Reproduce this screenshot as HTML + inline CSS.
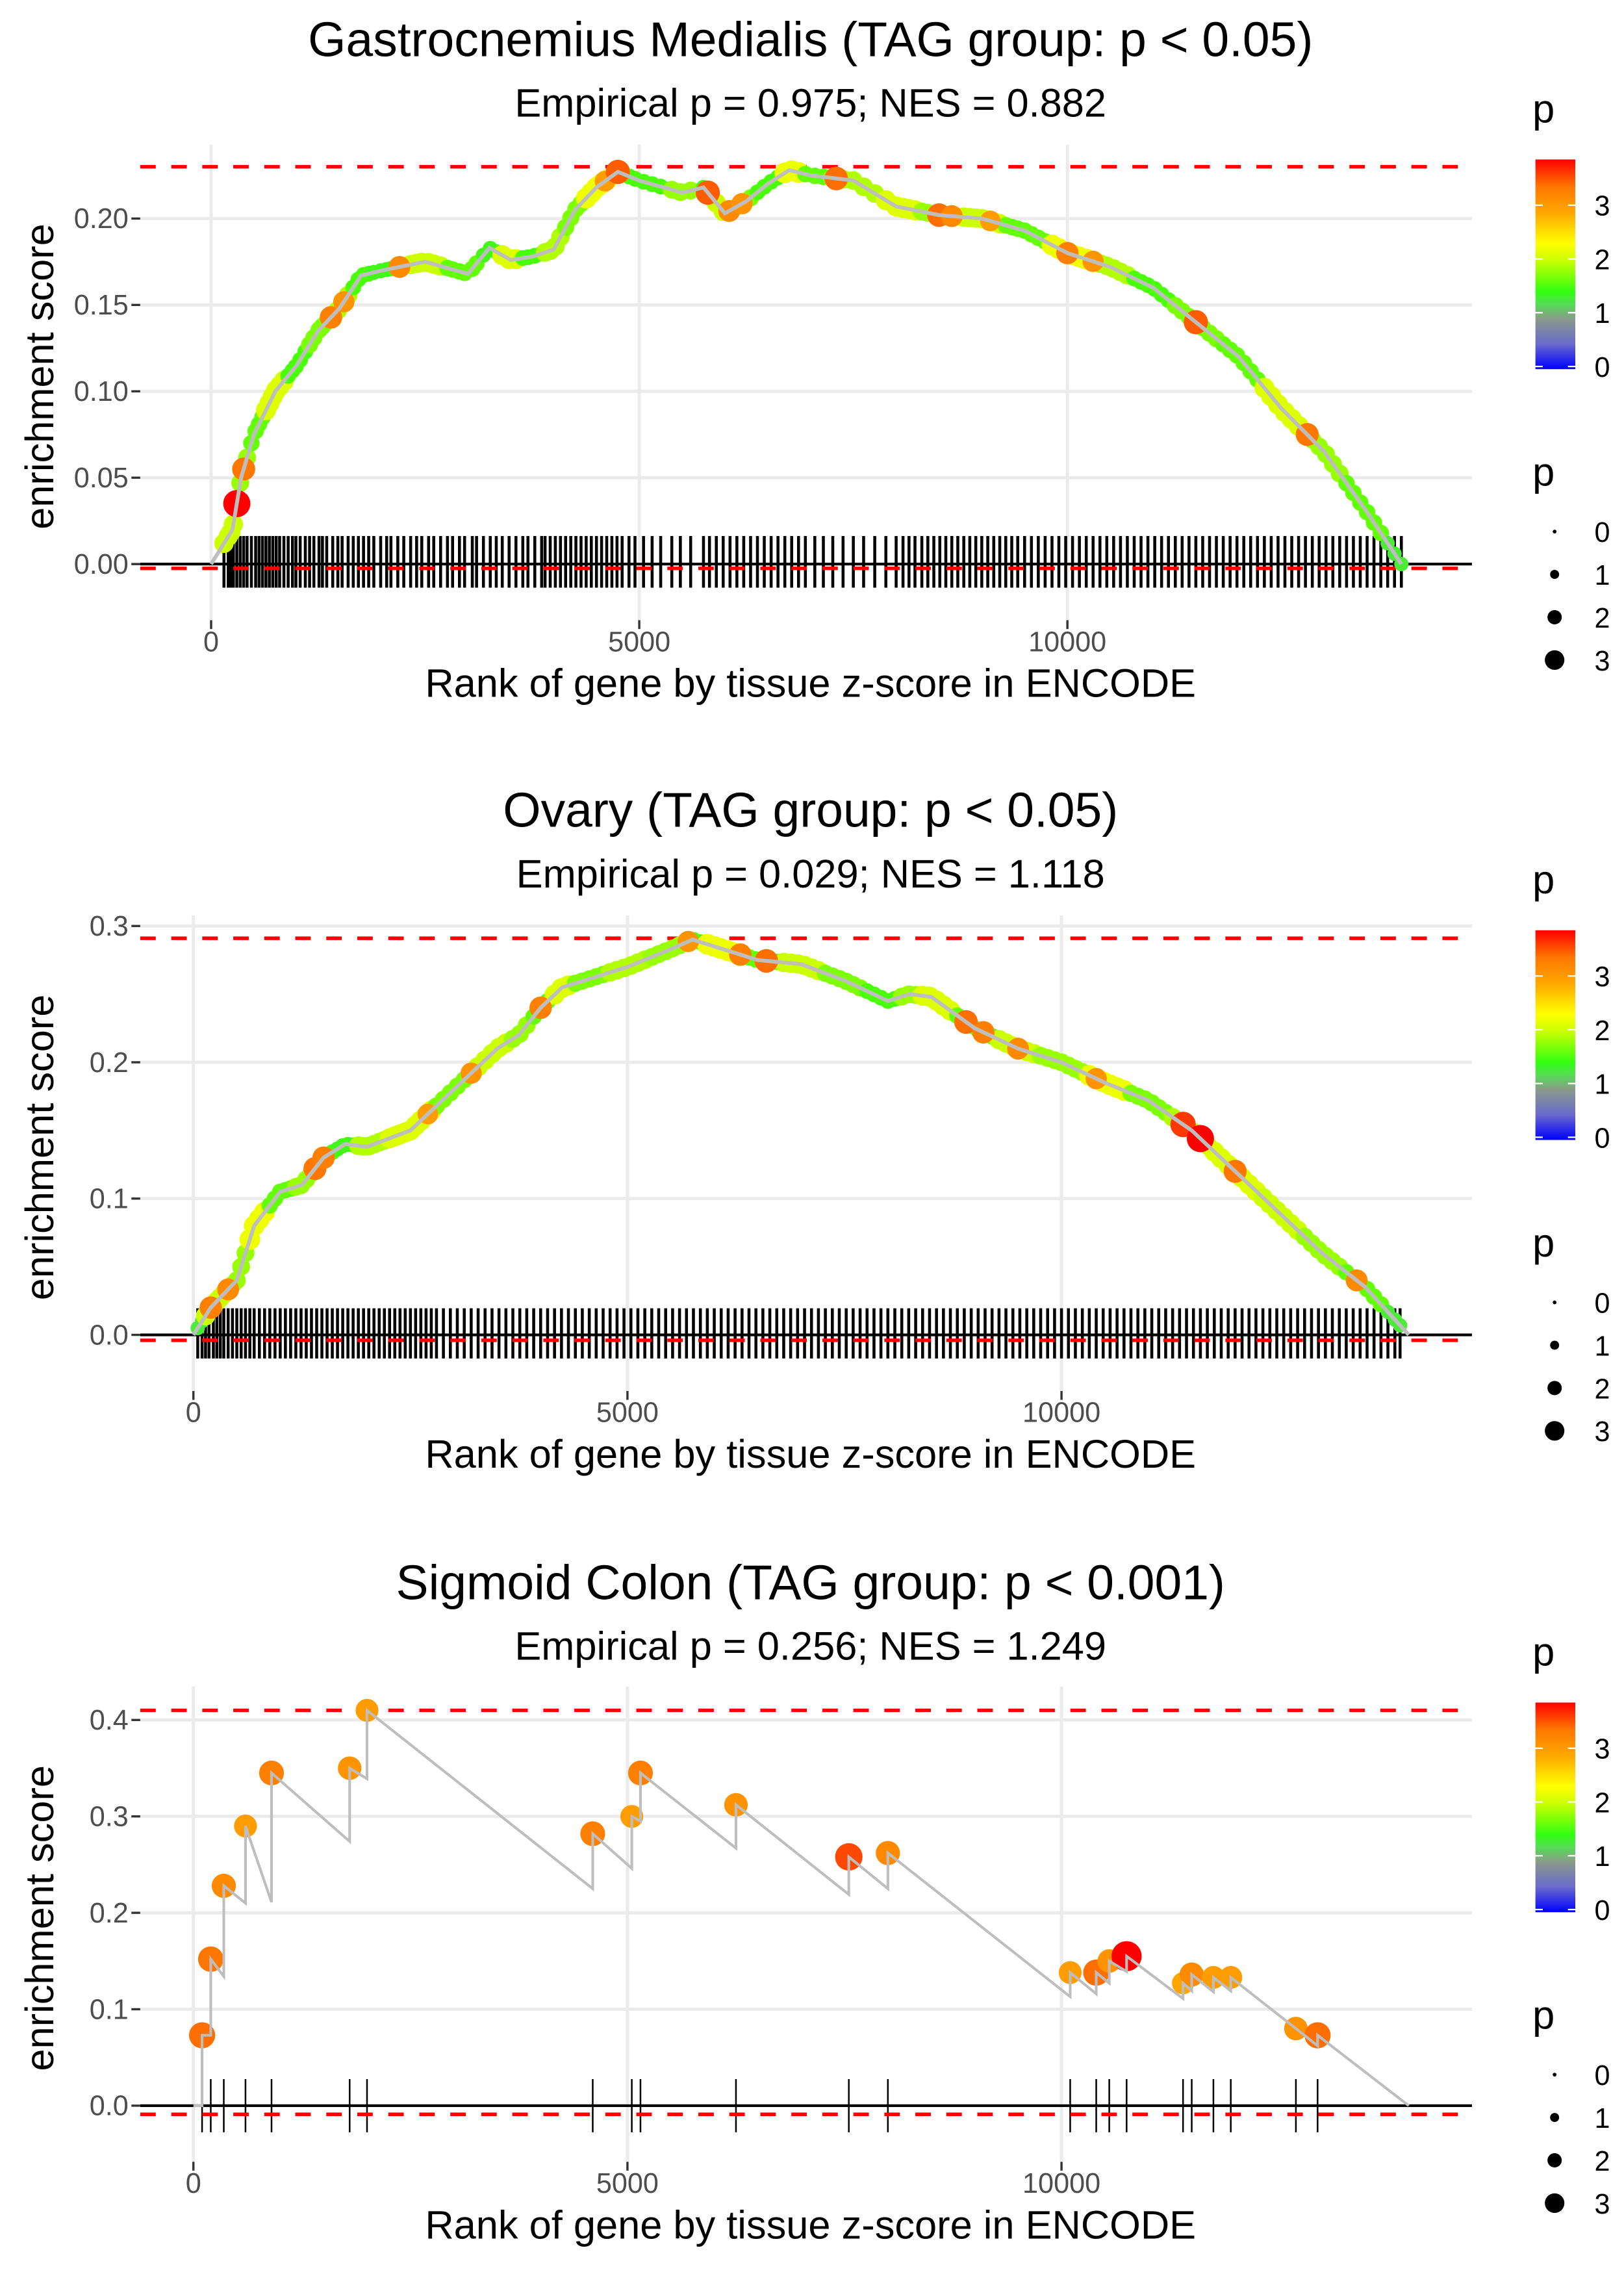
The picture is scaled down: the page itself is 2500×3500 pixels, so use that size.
<!DOCTYPE html>
<html><head><meta charset="utf-8"><style>
html,body{margin:0;padding:0;background:#fff;}
svg{display:block;font-family:"Liberation Sans",sans-serif;}
</style></head><body>
<svg id="chart" width="2500" height="3500" viewBox="0 0 1100 1540" preserveAspectRatio="none" xmlns="http://www.w3.org/2000/svg">
<defs>
<linearGradient id="pgrad" x1="0" y1="1" x2="0" y2="0">
<stop offset="0" stop-color="#0000ff"/><stop offset="0.12" stop-color="#6a6acc"/><stop offset="0.24" stop-color="#8a9a8a"/><stop offset="0.31" stop-color="#55dd55"/><stop offset="0.37" stop-color="#33ff11"/><stop offset="0.52" stop-color="#ccff00"/><stop offset="0.6" stop-color="#ffff00"/><stop offset="0.74" stop-color="#ffaa00"/><stop offset="0.87" stop-color="#ff7700"/><stop offset="1" stop-color="#ff0000"/>
</linearGradient>
</defs>
</svg>
<script>
// ---------- data ----------
const p1CurveRank=[0,250,350,500,750,1000,1250,1500,1750,2000,2500,3000,3250,3500,3750,4000,4250,4500,4750,5000,5500,5750,6000,6250,6500,6750,7000,7500,8000,8500,9000,9500,10000,10500,11000,11500,12000,12500,13000,13500,13900];
const p1CurveES=[0,0.02,0.05,0.075,0.10,0.115,0.135,0.148,0.167,0.170,0.175,0.168,0.183,0.176,0.178,0.182,0.205,0.218,0.227,0.222,0.215,0.218,0.203,0.210,0.220,0.228,0.225,0.222,0.207,0.202,0.200,0.193,0.180,0.172,0.160,0.140,0.120,0.090,0.065,0.030,0];
const p1CurveP=[1.3,2.0,1.8,1.6,2.1,1.5,1.7,1.9,1.5,1.4,2.0,1.6,1.4,2.1,1.5,1.9,1.7,2.2,1.6,1.5,1.8,1.4,2.0,1.7,1.5,2.2,1.6,1.9,2.1,1.8,2.0,1.6,2.2,1.9,1.5,1.7,1.6,2.1,1.8,1.6,1.3];
const p1HiRank=[300,380,1400,1550,2200,4600,4750,5800,6050,6200,7300,8500,8650,9100,10000,10300,11500,12800];
const p1HiP=[3.9,3.2,3.1,2.9,3.0,2.8,3.4,3.4,3.0,2.9,3.3,3.3,3.0,2.8,3.1,2.9,3.4,3.2];
const p1Rug=[150,200,230,260,300,340,380,420,470,520,560,600,640,680,720,760,800,850,900,950,990,1040,1100,1150,1200,1260,1300,1350,1420,1480,1530,1600,1660,1720,1780,1840,1900,1980,2050,2100,2180,2250,2330,2400,2460,2540,2600,2680,2760,2820,2900,2960,3050,3100,3180,3260,3330,3400,3480,3560,3640,3700,3780,3860,3900,3960,4020,4080,4140,4200,4260,4320,4380,4440,4500,4560,4620,4680,4740,4800,4880,4950,5050,5150,5250,5380,5480,5600,5750,5820,5900,5980,6060,6140,6220,6300,6380,6460,6540,6620,6700,6780,6860,6940,7050,7150,7260,7380,7500,7620,7750,7880,8000,8080,8150,8220,8300,8370,8440,8510,8580,8650,8720,8790,8860,8930,9000,9070,9140,9210,9280,9350,9420,9500,9580,9660,9740,9820,9900,9980,10060,10140,10220,10300,10380,10460,10540,10620,10700,10780,10860,10940,11020,11100,11180,11260,11340,11420,11500,11580,11660,11740,11820,11900,11980,12060,12140,12220,12300,12380,12460,12540,12620,12700,12780,12860,12940,13020,13100,13180,13260,13340,13420,13500,13580,13660,13740,13820,13900];

const p2CurveRank=[0,200,500,700,1000,1250,1500,1750,2000,2500,3000,3500,3750,4000,4250,4500,5000,5500,5750,6000,6500,7000,7500,8000,8250,8500,9000,9500,10000,10500,11000,11500,12000,12500,13000,13500,14000];
const p2CurveES=[0,0.02,0.04,0.08,0.105,0.11,0.13,0.14,0.138,0.15,0.18,0.21,0.22,0.24,0.255,0.26,0.27,0.283,0.29,0.285,0.275,0.272,0.26,0.245,0.25,0.248,0.225,0.21,0.20,0.185,0.172,0.15,0.12,0.09,0.06,0.035,0];
const p2CurveP=[1.3,2.0,1.8,2.2,1.6,1.8,1.5,1.4,1.9,2.1,1.7,2.0,1.8,1.6,2.1,1.7,1.9,1.8,1.5,2.2,1.6,2.0,1.7,1.5,1.8,2.1,1.6,2.0,1.8,2.2,1.7,1.9,2.1,2.0,1.8,1.6,1.3];
const p2HiRank=[200,400,1400,1500,2700,3200,4000,5700,6300,6600,8900,9100,9500,10400,11400,11600,12000,13400];
const p2HiP=[3.1,3.0,3.2,3.1,2.8,2.9,3.1,2.9,3.1,3.3,3.3,3.1,3.0,2.9,3.6,3.9,3.2,3.0];
const p2Rug=[50,100,140,180,230,270,310,350,400,450,500,550,600,650,700,760,820,880,940,1000,1060,1120,1180,1240,1300,1360,1420,1480,1540,1600,1660,1720,1780,1840,1900,1960,2020,2080,2140,2200,2260,2320,2380,2440,2500,2560,2620,2680,2740,2800,2880,2960,3040,3120,3200,3280,3360,3440,3520,3600,3680,3760,3840,3920,4000,4080,4160,4240,4320,4400,4480,4560,4640,4720,4800,4880,4960,5040,5120,5200,5280,5360,5440,5520,5600,5680,5760,5840,5920,6000,6080,6160,6240,6320,6400,6480,6560,6640,6720,6800,6880,6960,7040,7120,7200,7280,7360,7440,7520,7600,7680,7760,7840,7920,8000,8080,8160,8240,8320,8400,8480,8560,8640,8720,8800,8880,8960,9040,9120,9200,9280,9360,9440,9520,9600,9680,9760,9840,9920,10000,10080,10160,10240,10320,10400,10480,10560,10640,10720,10800,10880,10960,11040,11120,11200,11280,11360,11440,11520,11600,11680,11760,11840,11920,12000,12080,12160,12240,12320,12400,12480,12560,12640,12720,12800,12880,12960,13040,13120,13200,13280,13360,13440,13520,13600,13680,13760,13840,13900];

const p3HitRank=[100,200,350,600,900,1800,2000,4600,5050,5150,6250,7550,8000,10100,10400,10550,10750,11400,11500,11750,11950,12700,12950];
const p3HitES=[0.073,0.152,0.228,0.290,0.345,0.350,0.410,0.282,0.300,0.345,0.312,0.258,0.262,0.138,0.138,0.150,0.155,0.127,0.136,0.133,0.133,0.080,0.073];
const p3HitP=[3.3,3.2,3.0,2.8,3.1,2.9,2.8,3.1,2.8,3.1,2.9,3.5,3.0,2.8,3.3,2.9,3.9,2.7,3.0,2.8,2.8,2.9,3.3];
const p3Drop=[0.0,0.0,0.018,0.018,0.079,0.071,0.011,0.185,0.036,0.005,0.078,0.093,0.033,0.149,0.022,0.011,0.011,0.044,0.008,0.018,0.014,0.053,0.018];
const p3End=14000;

const yTicks1=[0,0.05,0.10,0.15,0.20], yLab1=["0.00","0.05","0.10","0.15","0.20"];
const yTicks2=[0,0.1,0.2,0.3], yLab2=["0.0","0.1","0.2","0.3"];
const yTicks3=[0,0.1,0.2,0.3,0.4], yLab3=["0.0","0.1","0.2","0.3","0.4"];
const xTicks=[0,5000,10000], xLab=["0","5000","10000"];
const legendVals=[0,1,2,3], legendLab=["0","1","2","3"];

// ---------- helpers ----------
const NS="http://www.w3.org/2000/svg";
const svg=document.getElementById('chart');
function mk(tag,attrs,parent){const e=document.createElementNS(NS,tag);for(const k in attrs)e.setAttribute(k,attrs[k]);(parent||svg).appendChild(e);return e;}
const stops=[[0,[0,0,255]],[0.5,[106,106,204]],[0.9,[138,154,138]],[1.2,[85,221,85]],[1.45,[60,255,10]],[2.0,[204,255,0]],[2.3,[255,255,0]],[2.7,[255,165,0]],[3.3,[255,110,0]],[3.9,[255,0,0]]];
function pcol(p){if(p<=0)return 'rgb(0,0,255)';for(let i=1;i<stops.length;i++){if(p<=stops[i][0]){const a=stops[i-1],b=stops[i];const t=(p-a[0])/(b[0]-a[0]);const c=a[1].map((v,j)=>Math.round(v+(b[1][j]-v)*t));return `rgb(${c})`;}}return 'rgb(255,0,0)';}
function prad(p){return 1.5+2.1*p;}
function interp(rs,es,r){for(let i=1;i<rs.length;i++){if(r<=rs[i]){const t=(r-rs[i-1])/(rs[i]-rs[i-1]);return es[i-1]+(es[i]-es[i-1])*t;}}return es[es.length-1];}
function nearestP(rs,ps,r){let b=0;for(let i=0;i<rs.length;i++)if(Math.abs(rs[i]-r)<Math.abs(rs[b]-r))b=i;return ps[b];}

function panel(cfg){
  const g=mk('g',{});
  
  
  const X=r=>cfg.x0+r*cfg.xs, Y=v=>cfg.y0-v*cfg.ys;
  cfg.yTicks.forEach((v,i)=>{const l=mk('line',{x1:95,x2:997,y1:Y(v),y2:Y(v),stroke:'#ebebeb','stroke-width':2.2},g);
    
    const t=mk('text',{x:87,y:Y(v)+6.5,'text-anchor':'end','font-size':19,fill:'#4d4d4d'},g);t.textContent=cfg.yLab[i];
    
    mk('line',{x1:89,x2:95,y1:Y(v),y2:Y(v),stroke:'#333','stroke-width':1.5},g);});
  xTicks.forEach((v,i)=>{const l=mk('line',{x1:X(v),x2:X(v),y1:cfg.top,y2:cfg.bot,stroke:'#ebebeb','stroke-width':2.2},g);
    
    mk('line',{x1:X(v),x2:X(v),y1:cfg.bot,y2:cfg.bot+6,stroke:'#333','stroke-width':1.5},g);
    const t=mk('text',{x:X(v),y:cfg.bot+21,'text-anchor':'middle','font-size':19,fill:'#4d4d4d'},g);t.textContent=xLab[i];
    });
  cfg.rug.forEach(r=>{const l=mk('line',{x1:X(r),x2:X(r),y1:cfg.rugTop,y2:cfg.rugBot,stroke:'#000','stroke-width':cfg.rugW},g);
    });
  const z=mk('line',{x1:95,x2:997,y1:Y(0),y2:Y(0),stroke:'#000','stroke-width':1.8},g);
  
  [cfg.maxES,cfg.minES].forEach(v=>{const l=mk('line',{x1:95,x2:997,y1:Y(v),y2:Y(v),stroke:'#ff0000','stroke-width':2.4,'stroke-dasharray':'10.5,10.5'},g);
    });
  cfg.draw(g,X,Y);
  const tt=mk('text',{x:549,y:cfg.titleY,'text-anchor':'middle','font-size':33,fill:'#000'},g);tt.textContent=cfg.title;
  
  const st=mk('text',{x:549,y:cfg.titleY+41,'text-anchor':'middle','font-size':27,fill:'#000'},g);st.textContent=cfg.sub;
  
  const xt=mk('text',{x:549,y:cfg.bot+52,'text-anchor':'middle','font-size':27,fill:'#000'},g);xt.textContent='Rank of gene by tissue z-score in ENCODE';
  
  const cy=(cfg.top+cfg.bot)/2-4;
  const yt=mk('text',{x:0,y:0,'text-anchor':'middle','font-size':27,fill:'#000',transform:`translate(36,${cy}) rotate(-90)`},g);yt.textContent='enrichment score';
  
  const ly=cfg.legY;
  const lt=mk('text',{x:1038,y:ly,'font-size':27,fill:'#000'},g);lt.textContent='p';
  
  const cb=mk('rect',{x:1040,y:ly+25,width:27,height:142,fill:'url(#pgrad)'},g);
  
  legendVals.forEach((v,i)=>{const yy=ly+25+142-(v+0.05)/3.9*142;
    mk('line',{x1:1040,x2:1045,y1:yy,y2:yy,stroke:'#fff','stroke-width':1},g);mk('line',{x1:1062,x2:1067,y1:yy,y2:yy,stroke:'#fff','stroke-width':1},g);
    const t=mk('text',{x:1080,y:yy+7,'font-size':19,fill:'#000'},g);t.textContent=legendLab[i];
    });
  const lt2=mk('text',{x:1038,y:ly+246,'font-size':27,fill:'#000'},g);lt2.textContent='p';
  
  legendVals.forEach((v,i)=>{const yy=ly+277+i*29;
    const c=mk('circle',{cx:1053,cy:yy,r:prad(v)*0.85,fill:'#000'},g);
    
    const t=mk('text',{x:1080,y:yy+7,'font-size':19,fill:'#000'},g);t.textContent=legendLab[i];
    });
}

function smoothDraw(rs,es,ps,rug,hiR,hiP){return function(g,X,Y){
  const hits=rug.map(r=>({r,e:interp(rs,es,r),p:nearestP(rs,ps,r)}));
  hits.forEach(h=>{const c=mk('circle',{cx:X(h.r),cy:Y(h.e),r:prad(h.p)*1.15,fill:pcol(h.p)},g);
    });
  hiR.forEach((r,i)=>{const c=mk('circle',{cx:X(r),cy:Y(interp(rs,es,r)),r:prad(hiP[i])*0.95,fill:pcol(hiP[i])},g);
    });
  const d=rs.map((r,i)=>(i?'L':'M')+X(r).toFixed(2)+','+Y(es[i]).toFixed(2)).join('');
  const pth=mk('path',{d,fill:'none',stroke:'#bebebe','stroke-width':2.6},g);
  
};}

panel({name:'panel-gastrocnemius',x0:143,xs:0.058,y0:382,ys:1170,top:98,bot:420,yTicks:yTicks1,yLab:yLab1,rug:p1Rug,rugTop:363,rugBot:398,rugW:2.0,maxES:0.23,minES:-0.0025,
  title:'Gastrocnemius Medialis (TAG group: p < 0.05)',sub:'Empirical p = 0.975; NES = 0.882',titleY:38,legY:83,draw:smoothDraw(p1CurveRank,p1CurveES,p1CurveP,p1Rug,p1HiRank,p1HiP)});
panel({name:'panel-ovary',x0:131,xs:0.0588,y0:904,ys:923,top:620,bot:942,yTicks:yTicks2,yLab:yLab2,rug:p2Rug,rugTop:886,rugBot:920,rugW:2.0,maxES:0.291,minES:-0.004,
  title:'Ovary (TAG group: p < 0.05)',sub:'Empirical p = 0.029; NES = 1.118',titleY:560,legY:605,draw:smoothDraw(p2CurveRank,p2CurveES,p2CurveP,p2Rug,p2HiRank,p2HiP)});
panel({name:'panel-sigmoid-colon',x0:131,xs:0.0588,y0:1426,ys:653,top:1142,bot:1464,yTicks:yTicks3,yLab:yLab3,rug:p3HitRank,rugTop:1408,rugBot:1444,rugW:1.1,maxES:0.41,minES:-0.009,
  title:'Sigmoid Colon (TAG group: p < 0.001)',sub:'Empirical p = 0.256; NES = 1.249',titleY:1083,legY:1128,
  draw:function(g,X,Y){
    let d='M'+X(0)+','+Y(0);
    p3HitRank.forEach((r,i)=>{const prev=i?p3HitES[i-1]:0;const trough=prev-p3Drop[i];d+='L'+X(r)+','+Y(trough)+'L'+X(r)+','+Y(p3HitES[i]);});
    d+='L'+X(p3End)+','+Y(0);
    p3HitRank.forEach((r,i)=>{const c=mk('circle',{cx:X(r),cy:Y(p3HitES[i]),r:prad(p3HitP[i])*1.05,fill:pcol(p3HitP[i])},g);
      });
    const pth=mk('path',{d,fill:'none',stroke:'#bebebe','stroke-width':1.8},g);
    
  }});
</script>
</body></html>
